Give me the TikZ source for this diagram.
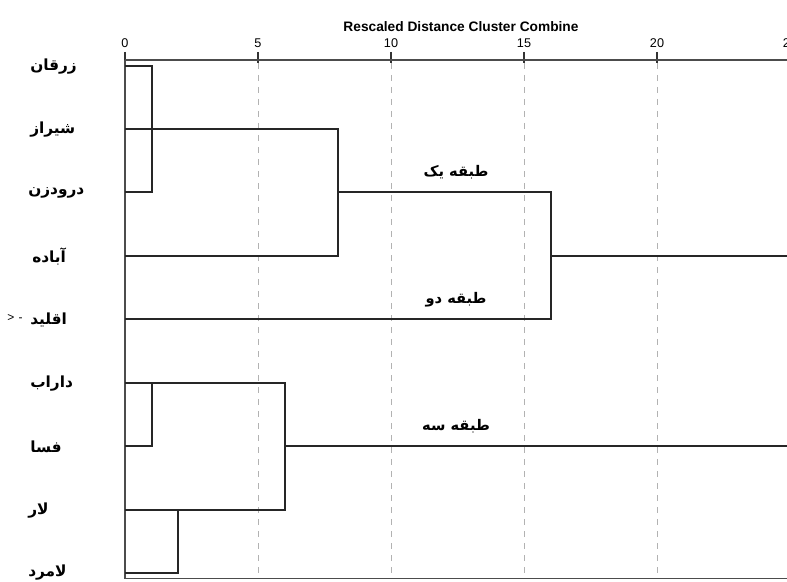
\documentclass[tikz,border=0pt]{standalone}
\usepackage{fontspec}
\setmainfont{Liberation Sans}
\newfontfamily\fa[Script=Arabic]{DejaVu Sans}
\TeXXeTstate=1
\begin{document}
\begin{tikzpicture}[x=0.75pt,y=-0.75pt,
  frame/.style={draw=black!70,line width=1.1pt},
  grid/.style={draw=black!30,line width=0.5pt,dash pattern=on 4.5pt off 4.5pt},
  link/.style={draw=black!85,line width=0.9pt},
  tick/.style={draw=black!80,line width=1pt},
  leaf/.style={font=\fa\bfseries\fontsize{11.5}{12}\selectfont,anchor=west,inner sep=0pt},
  cls/.style={font=\fa\bfseries\fontsize{11}{12}\selectfont,inner sep=0pt},
  num/.style={font=\fontsize{9.5}{10}\selectfont,inner sep=0pt},
  ttl/.style={font=\bfseries\fontsize{10.3}{12}\selectfont,inner sep=0pt}]
\useasboundingbox (0,0) rectangle (787,581);
% title and scale
\node[ttl] (title) at (461,27) {Rescaled Distance Cluster Combine};
\foreach \v/\x in {0/125,5/258,10/391,15/524,20/657,25/790}{
  \node[num] (n\v) at (\x,43) {\v};
}
\foreach \x in {258,391,524,657}{
  \draw[grid] (\x,63) -- (\x,578);
  \draw[tick] (\x,52) -- (\x,63);
}
\draw[tick] (125,52) -- (125,60);
% frame
\draw[frame] (125,60) -- (790,60);
\draw[frame] (125,578.5) -- (790,578.5);
\draw[frame] (125,60) -- (125,578.5);
% leaf labels
\node[leaf] (l1) at (30,67) {\beginR زرقان\endR};
\node[leaf] (l2) at (30,130) {\beginR شیراز\endR};
\node[leaf] (l3) at (28,193) {\beginR درودزن\endR};
\node[leaf] (l4) at (32,257) {\beginR آباده\endR};
\node[leaf] (l5) at (30,320) {\beginR اقلید\endR};
\node[leaf] (l6) at (30,384) {\beginR داراب\endR};
\node[leaf] (l7) at (30,447) {\beginR فسا\endR};
\node[leaf] (l8) at (28,511) {\beginR لار\endR};
\node[leaf] (l9) at (28,573) {\beginR لامرد\endR};
\node[inner sep=0pt,font=\fontsize{9}{10}\selectfont] (mk) at (15,318) {>\,\,-};
% leaf start points
\foreach \i/\y in {1/66,2/129,3/192,4/256,5/319,6/383,7/446,8/510,9/573}{
  \coordinate (s\i) at (125,\y);
}
% joins
\coordinate (a1) at (152,66);  \coordinate (a3) at (152,192);
\coordinate (a2) at (152,129);
\coordinate (b2) at (338,129); \coordinate (b4) at (338,256);
\coordinate (b3) at (338,192);
\coordinate (c3) at (551,192); \coordinate (c5) at (551,319);
\coordinate (c4) at (551,256); \coordinate (e1) at (790,256);
\coordinate (d6) at (152,383); \coordinate (d7) at (152,446);
\coordinate (f8) at (178,510); \coordinate (f9) at (178,573);
\coordinate (g6) at (285,383); \coordinate (g8) at (285,510);
\coordinate (g7) at (285,446); \coordinate (e2) at (790,446);
\draw[link] (s1) -- (a1) -- (a3) -- (s3);
\draw[link] (s2) -- (b2) -- (b4) -- (s4);
\draw[link] (b3) -- (c3) -- (c5) -- (s5);
\draw[link] (c4) -- (e1);
\draw[link] (s7) -- (d7) -- (d6);
\draw[link] (s6) -- (g6) -- (g8) -- (s8);
\draw[link] (f8) -- (f9) -- (s9);
\draw[link] (g7) -- (e2);
% cluster labels
\node[cls] (k1) at (456,172) {\beginR طبقه یک\endR};
\node[cls] (k2) at (456,300) {\beginR طبقه دو\endR};
\node[cls] (k3) at (456,426) {\beginR طبقه سه\endR};
\end{tikzpicture}
\end{document}
